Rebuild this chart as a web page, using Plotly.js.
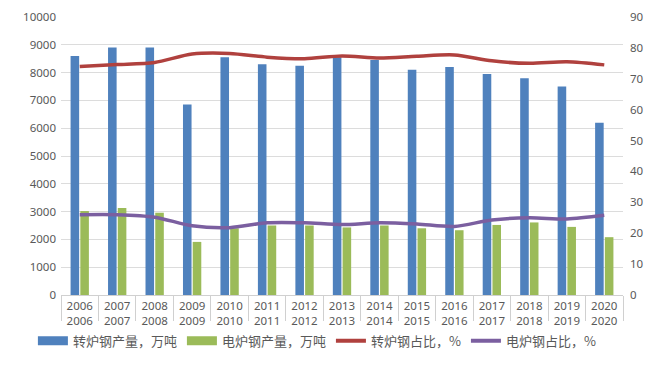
<!DOCTYPE html>
<html><head><meta charset="utf-8">
<script src="https://cdn.plot.ly/plotly-3.0.1.min.js"></script>
<style>html,body{margin:0;padding:0;background:#fff;}#chart{width:660px;height:369px;}</style>
</head><body><div id="chart"></div>
<script>
const years = ['2006','2007','2008','2009','2010','2011','2012','2013','2014','2015','2016','2017','2018','2019','2020'];
const tickLabels = years.map(y => y + '<br>' + y);
const bofOutput = [8600, 8900, 8900, 6850, 8550, 8300, 8250, 8550, 8450, 8100, 8200, 7950, 7800, 7500, 6200];
const eafOutput = [3020, 3130, 2960, 1910, 2400, 2500, 2500, 2430, 2500, 2400, 2330, 2520, 2610, 2450, 2080];
const bofShare = [74.0, 74.6, 75.3, 78.0, 78.2, 77.0, 76.5, 77.4, 76.7, 77.3, 77.7, 75.8, 75.0, 75.5, 74.5];
const eafShare = [26.0, 26.0, 25.2, 22.4, 21.8, 23.4, 23.4, 22.8, 23.4, 23.0, 22.2, 24.3, 25.0, 24.6, 25.8];
const names = ['转炉钢产量，万吨', '电炉钢产量，万吨', '转炉钢占比，%', '电炉钢占比，%'];
const colors = ['#4f81bd', '#9bbb59', '#b0413e', '#7b5fa0'];

const traces = [
  {type:'bar', x: years, y: bofOutput, name: names[0], marker:{color:colors[0]}, showlegend:false},
  {type:'bar', x: years, y: eafOutput, name: names[1], marker:{color:colors[1]}, showlegend:false},
  {type:'scatter', mode:'lines', x: years, y: bofShare, name: names[2], yaxis:'y2', line:{color:colors[2], width:3.5, shape:'spline', smoothing:0.8}, showlegend:false},
  {type:'scatter', mode:'lines', x: years, y: eafShare, name: names[3], yaxis:'y2', line:{color:colors[3], width:3.5, shape:'spline', smoothing:0.8}, showlegend:false},
  // legend entries
  {type:'scatter', mode:'lines', x:[null], y:[null], name: names[0], line:{color:colors[0], width:9}},
  {type:'scatter', mode:'lines', x:[null], y:[null], name: names[1], line:{color:colors[1], width:9}},
  {type:'scatter', mode:'lines', x:[null], y:[null], name: names[2], yaxis:'y2', line:{color:colors[2], width:4}},
  {type:'scatter', mode:'lines', x:[null], y:[null], name: names[3], yaxis:'y2', line:{color:colors[3], width:4}}
];

const fnt = {family:'"Noto Sans", "Noto Sans CJK SC", sans-serif', size:11, color:'#595959'};
const layout = {
  width:660, height:369,
  margin:{l:61, r:37, t:17, b:74},
  paper_bgcolor:'#fff', plot_bgcolor:'#fff',
  font: fnt,
  barmode:'group', bargap:0.48, bargroupgap:0.12,
  xaxis:{type:'category', tickvals: years, ticktext: tickLabels, tickson:'boundaries', ticks:'outside', ticklen:25, tickcolor:'#d0d0d0',
         showline:true, linecolor:'#d0d0d0', showgrid:false, tickfont:{...fnt, size:11.5}, fixedrange:true},
  yaxis:{range:[0,10000], dtick:1000, tickformat:'d', showgrid:true, gridcolor:'#dcdcdc', zeroline:false, showline:false, ticks:'', ticklabelstandoff:4, tickfont:{...fnt, size:11.5}},
  yaxis2:{range:[0,90], dtick:10, overlaying:'y', side:'right', showgrid:false, zeroline:false, showline:false, tickfont:{...fnt, size:11.5}, ticklabelstandoff:6},
  legend:{orientation:'h', x:-0.05, xanchor:'left', y:-0.165, yanchor:'middle', font:{family:'"Noto Sans CJK SC", sans-serif', size:13, color:'#595959'},
          itemwidth:30, traceorder:'normal', itemgap:26},
  showlegend:true
};
Plotly.newPlot('chart', traces, layout, {displayModeBar:false, staticPlot:true});
</script></body></html>
